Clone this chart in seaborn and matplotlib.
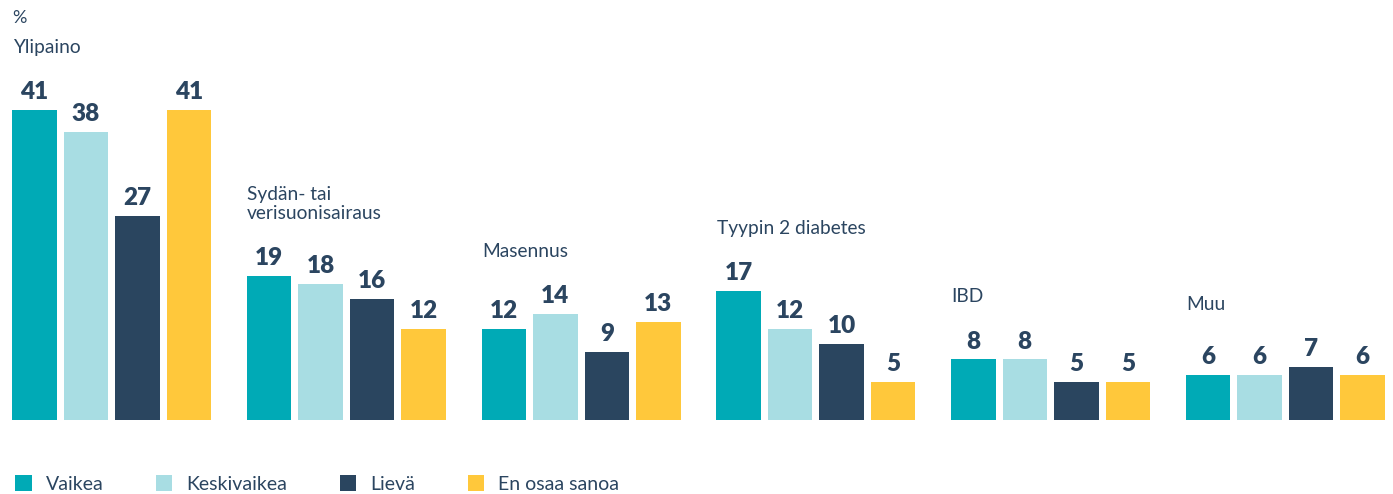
import matplotlib
matplotlib.use("Agg")
import matplotlib.pyplot as plt
import seaborn as sns
import pandas as pd

categories = ["Ylipaino", "Sydän- tai\nverisuonisairaus", "Masennus",
              "Tyypin 2 diabetes", "IBD", "Muu"]
series_names = ["Vaikea", "Keskivaikea", "Lievä", "En osaa sanoa"]
vaikea = [41, 19, 12, 17, 8, 6]
keskivaikea = [38, 18, 14, 12, 8, 6]
lieva = [27, 16, 9, 10, 5, 7]
en_osaa = [41, 12, 13, 5, 5, 6]
colors = ["#00aab6", "#a8dde3", "#2a455f", "#ffc83b"]
text_color = "#2b4560"

series_values = [vaikea, keskivaikea, lieva, en_osaa]
rows = []
for name, vals in zip(series_names, series_values):
    for cat, v in zip(categories, vals):
        rows.append({"cat": cat, "series": name, "value": v})
df = pd.DataFrame(rows)

sns.set_theme(style="white")
plt.rcParams["font.family"] = ["Lato", "DejaVu Sans"]

W, H = 1393, 494
fig = plt.figure(figsize=(W / 100, H / 100), dpi=100)
ax = fig.add_axes([0, 74 / H, 1, 420 / H])

bar_width_total = 0.878
sns.barplot(data=df, x="cat", y="value", hue="series", order=categories,
            hue_order=series_names, palette=colors, saturation=1,
            width=bar_width_total, gap=0.136, linewidth=0, ax=ax,
            errorbar=None)

handles, labels = ax.get_legend_handles_labels()
if ax.legend_ is not None:
    ax.legend_.remove()

for cont in ax.containers:
    ax.bar_label(cont, fmt="%d", padding=5, color=text_color,
                 fontsize=17.5, fontweight="heavy")

ax.set_xlim(-0.476, 5.459)
ax.set_ylim(0, 55.5)
ax.axis("off")

# category labels above each group
for i, cat in enumerate(categories):
    mx = max(v[i] for v in series_values)
    ax.annotate(cat, xy=(i - 0.4225, mx), xytext=(0, 39),
                textcoords="offset points", ha="left", va="bottom",
                fontsize=13.8, color=text_color, linespacing=1.15)

fig.text(12 / W, 1 - 18 / H, "%", ha="left", va="center",
         fontsize=13, color=text_color)

fig.legend(handles, labels, loc="center left",
           bbox_to_anchor=(15 / W, 10 / H), ncol=4, frameon=False,
           fontsize=14, labelcolor=text_color, borderpad=0,
           borderaxespad=0, handlelength=0.85, handleheight=0.85,
           handletextpad=0.72, columnspacing=2.7)

fig.savefig("out.png", dpi=100)
